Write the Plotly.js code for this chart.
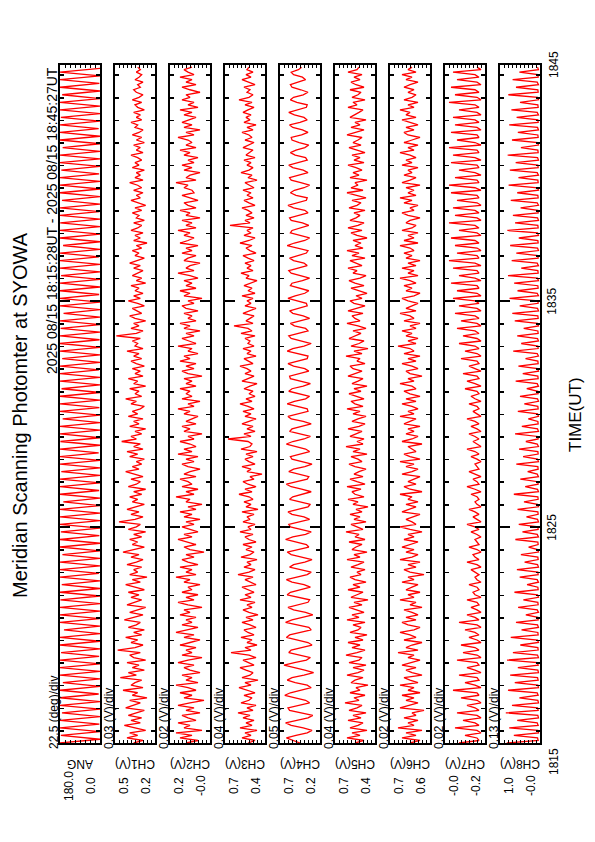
<!DOCTYPE html>
<html><head><meta charset="utf-8">
<script src="https://cdn.plot.ly/plotly-3.0.1.min.js"></script>
<style>
html,body{margin:0;padding:0;width:595px;height:842px;overflow:hidden;background:#fff;}
#plot{position:absolute;left:0;top:0;width:842px;height:595px;transform-origin:0 0;transform:translate(0px,842px) rotate(-90deg);}
</style></head><body><div id="plot"></div>
<script>
// ---- data ----
const titleText = 'Meridian Scanning Photomter at SYOWA';
const periodText = '2025 08/15 18:15:28UT - 2025 08/15 18:45:27UT';
const axisTitle = 'TIME(UT)';
const startMin = 15 + 28/60;   // 18:15:28
const endMin = 45 + 27/60;     // 18:45:27
const angSampleMin = 10/60;    // scan angle: one sample every 10 s
const chSampleMin = (20/3)/60; // photometer channels: one sample every 6.67 s
const timeTickVals = [25, 35];
const timeTickText = ['1825', '1835'];
const timeEndLabels = ['1815', '1845'];

const channelNames = ['ANG','CH1(V)','CH2(V)','CH3(V)','CH4(V)','CH5(V)','CH6(V)','CH7(V)','CH8(V)'];
const perDivLabels = ['22.5 (deg)/div','0.03 (V)/div','0.02 (V)/div','0.04 (V)/div','0.05 (V)/div','0.04 (V)/div','0.02 (V)/div','0.02 (V)/div','0.13 (V)/div'];
const topLabels = ['180.0','0.5','0.2','0.7','0.7','0.7','0.7','-0.0','1.0'];
const bottomLabels = ['0.0','0.2','-0.0','0.4','0.2','0.4','0.6','-0.2','-0.0'];
const yRanges = [[0,180],[0.2,0.5],[-0.01,0.19],[0.35,0.75],[0.2,0.7],[0.35,0.75],[0.55,0.75],[-0.22,-0.02],[-0.03,1.27]];

const ang = [
180,0,176,0,180,3,180,0,171,0,180,0,180,6,180,0,167,0,180,0,
180,0,180,4,175,0,180,0,180,0,162,0,180,2,180,0,180,0,178,0,
180,0,172,0,180,5,180,0,180,0,169,0,180,0,180,3,176,0,180,0,
180,0,180,0,165,0,180,4,180,0,180,0,174,0,180,0,180,6,180,0,
178,0,180,0,180,0,168,0,180,3,180,0,180,0,173,0,180,0,180,5,
180,0,170,0,180,0,180,2,180,0,177,0,180,0,164,0,180,0,180,4,
180,0,180,0,175,0,180,0,180,5,180,0,166,0,180,0,180,0,179,0,
180,3,180,0,171,0,180,0,180,0,180,4,174,0,180,0,180,0,168,0,
180,0,180,6,180,0,176,0,180,0,180,0,170,0,180,3,180,0,180,0];

const ch1 = [
.36,.29,.41,.33,.39,.27,.35,.43,.31,.38, .30,.40,.34,.28,.42,.36,.31,.39,.26,.37,
.33,.44,.29,.38,.35,.30,.46,.34,.40,.28, .37,.32,.41,.27,.36,.39,.31,.48,.35,.29,
.38,.33,.42,.30,.36,.28,.40,.34,.31,.43, .35,.29,.39,.33,.27,.41,.36,.30,.38,.32,
.40,.28,.35,.42,.31,.37,.26,.39,.33,.36, .30,.41,.34,.29,.38,.32,.44,.35,.28,.37,
.33,.39,.30,.36,.27,.40,.34,.31,.47,.35, .29,.38,.32,.41,.35,.28,.37,.33,.39,.30,
.36,.27,.40,.34,.31,.38,.29,.35,.42,.32, .37,.30,.34,.28,.39,.33,.41,.29,.36,.31,
.45,.34,.38,.30,.35,.27,.39,.32,.36,.29, .40,.33,.37,.31,.28,.38,.34,.42,.30,.35,
.32,.39,.27,.36,.33,.40,.29,.35,.31,.37, .28,.34,.38,.30,.36,.32,.41,.29,.35,.33,
.37,.31,.49,.34,.29,.38,.32,.36,.27,.35, .39,.30,.34,.37,.28,.33,.40,.31,.36,.29,
.35,.32,.38,.27,.34,.30,.37,.33,.29,.36, .31,.39,.33,.28,.35,.32,.37,.30,.34,.26,
.36,.31,.35,.29,.38,.33,.30,.36,.28,.34, .32,.37,.30,.35,.27,.33,.38,.31,.34,.29,
.36,.30,.33,.39,.29,.35,.31,.34,.28,.37, .32,.35,.30,.33,.38,.29,.34,.31,.36,.28,
.34,.30,.37,.32,.29,.35,.33,.38,.30,.34, .31,.36,.28,.33,.35,.30,.37,.32,.29,.34,
.36,.31,.33,.29,.35,.32,.30,.34,.31,.33];

const ch2 = [
.11,.05,.14,.08,.16,.03,.12,.09,.15,.06, .10,.13,.04,.11,.07,.15,.09,.02,.12,.08,
.14,.06,.10,.16,.05,.11,.08,.13,.04,.09, .12,.07,.15,.10,.03,.13,.08,.11,.06,.14,
.09,.04,.12,.07,.16,.10,.05,.13,.08,.11, .06,.14,.09,.12,.03,.10,.15,.07,.11,.05,
.13,.08,.10,.04,.12,.09,.16,.06,.11,.08, .14,.05,.10,.13,.07,.11,.02,.09,.12,.06,
.10,.15,.08,.12,.05,.09,.13,.07,.11,.04, .12,.08,.14,.06,.10,.03,.11,.09,.16,.07,
.11,.05,.13,.08,.10,.14,.06,.12,.09,.04, .10,.13,.07,.11,.05,.15,.08,.12,.06,.09,
.14,.07,.10,.03,.12,.09,.13,.06,.11,.08, .05,.12,.09,.15,.07,.10,.04,.13,.08,.11,
.09,.14,.06,.11,.08,.12,.03,.10,.13,.07, .11,.06,.14,.09,.12,.05,.10,.08,.15,.06,
.10,.13,.07,.11,.04,.12,.09,.14,.06,.10, .08,.12,.05,.11,.13,.07,.10,.03,.12,.09,
.14,.06,.11,.08,.12,.05,.09,.15,.07,.11, .09,.04,.12,.10,.06,.13,.08,.11,.05,.14,
.10,.07,.12,.09,.15,.06,.11,.08,.13,.04, .11,.09,.14,.06,.10,.12,.05,.09,.13,.07,
.08,.12,.10,.16,.06,.11,.09,.04,.12,.08, .13,.07,.10,.05,.12,.09,.14,.06,.11,.08,
.10,.15,.07,.11,.04,.12,.08,.13,.09,.06, .12,.08,.14,.05,.10,.07,.13,.09,.11,.04,
.09,.13,.06,.11,.08,.14,.07,.10,.12,.08];

const ch3 = [
.52,.45,.58,.49,.55,.43,.60,.48,.54,.46, .57,.50,.62,.47,.53,.44,.59,.51,.48,.56,
.45,.53,.61,.49,.55,.42,.58,.50,.47,.54, .60,.46,.52,.57,.44,.51,.69,.49,.55,.43,
.53,.48,.59,.46,.52,.56,.44,.50,.58,.47, .54,.42,.51,.57,.48,.53,.45,.60,.49,.55,
.46,.52,.58,.44,.50,.55,.47,.62,.51,.45, .56,.49,.53,.43,.59,.50,.46,.54,.48,.57,
.44,.51,.55,.47,.60,.49,.52,.45,.57,.50, .53,.46,.58,.42,.54,.49,.56,.47,.51,.61,
.48,.55,.44,.52,.57,.46,.50,.38,.53,.49, .58,.45,.51,.55,.47,.54,.43,.59,.50,.48,
.52,.72,.49,.56,.45,.53,.47,.58,.51,.44, .55,.49,.57,.46,.52,.60,.48,.54,.45,.51,
.47,.56,.50,.43,.58,.52,.46,.55,.49,.53, .60,.47,.51,.56,.44,.53,.49,.57,.46,.52,
.50,.55,.45,.59,.48,.52,.66,.47,.54,.50, .46,.57,.51,.44,.55,.49,.53,.47,.58,.45,
.52,.48,.56,.50,.43,.54,.51,.59,.47,.53, .49,.55,.46,.52,.57,.44,.50,.54,.48,.60,
.51,.45,.56,.49,.53,.47,.70,.50,.55,.46, .54,.48,.52,.58,.45,.51,.56,.47,.53,.49,
.57,.46,.50,.55,.43,.52,.48,.59,.51,.47, .53,.49,.56,.45,.54,.50,.47,.57,.52,.46,
.55,.48,.51,.58,.47,.53,.44,.56,.50,.54, .49,.57,.52,.46,.55,.48,.61,.51,.47,.53,
.50,.56,.45,.52,.58,.49,.54,.47,.53,.51];

const ch4 = [
.45,.55,.62,.50,.36,.30,.41,.56,.63,.49, .35,.29,.44,.58,.60,.47,.33,.38,.52,.64,
.57,.42,.31,.36,.51,.61,.55,.40,.28,.39, .54,.65,.52,.37,.32,.46,.59,.56,.43,.30,
.35,.50,.62,.58,.44,.31,.34,.49,.63,.55, .41,.29,.38,.53,.60,.48,.35,.33,.47,.61,
.57,.43,.32,.40,.55,.62,.50,.36,.31,.45, .58,.53,.39,.30,.42,.56,.61,.47,.34,.37,
.52,.63,.54,.38,.31,.44,.57,.59,.45,.33, .40,.55,.60,.48,.35,.32,.46,.58,.54,.41,
.31,.43,.56,.62,.49,.36,.34,.48,.59,.53, .39,.30,.42,.55,.57,.44,.33,.38,.51,.62,
.54,.40,.32,.45,.58,.55,.42,.31,.41,.56, .60,.48,.35,.36,.50,.61,.52,.38,.33,.47,
.59,.55,.41,.32,.44,.57,.58,.45,.34,.39, .53,.60,.49,.36,.35,.48,.61,.54,.40,.31,
.42,.56,.59,.46,.35,.38,.52,.57,.43,.33, .41,.54,.58,.47,.36,.37,.50,.60,.51,.39,
.34,.45,.57,.55,.42,.33,.43,.56,.59,.46, .36,.40,.53,.58,.48,.37,.35,.49,.61,.52,
.39,.33,.46,.57,.55,.43,.34,.42,.56,.58, .45,.35,.39,.53,.60,.49,.37,.36,.50,.57,
.52,.40,.33,.44,.56,.58,.46,.35,.41,.54, .59,.47,.36,.38,.51,.57,.50,.39,.34,.46,
.55,.56,.43,.35,.42,.54,.58,.45,.36,.40, .52,.59,.48,.37,.36,.49,.57,.53,.41,.35,
.44,.55,.57,.46,.38,.42,.53,.56,.47,.43];

const ch5 = [
.55,.46,.63,.50,.58,.43,.60,.52,.47,.62, .49,.57,.44,.61,.53,.48,.65,.51,.56,.45,
.60,.50,.54,.42,.59,.55,.47,.63,.52,.46, .57,.44,.61,.51,.48,.64,.53,.45,.58,.50,
.62,.47,.55,.43,.60,.52,.49,.57,.45,.63, .51,.58,.46,.54,.61,.48,.56,.42,.59,.53,
.47,.62,.50,.57,.44,.55,.60,.49,.53,.45, .59,.52,.46,.63,.50,.56,.43,.58,.54,.48,
.61,.45,.55,.51,.64,.47,.53,.59,.44,.56, .50,.60,.48,.54,.42,.57,.52,.62,.46,.55,
.58,.49,.63,.45,.53,.60,.47,.56,.51,.44, .55,.61,.48,.52,.59,.43,.57,.50,.64,.47,
.53,.46,.60,.54,.48,.62,.51,.45,.58,.52, .44,.57,.50,.63,.47,.55,.59,.46,.53,.61,
.49,.56,.43,.58,.52,.47,.62,.54,.48,.57, .60,.45,.53,.50,.64,.48,.56,.42,.59,.51,
.46,.61,.55,.49,.57,.44,.52,.63,.50,.55, .58,.47,.62,.53,.45,.56,.60,.48,.54,.43,
.52,.59,.46,.55,.61,.50,.44,.57,.53,.62, .48,.54,.60,.45,.58,.51,.63,.47,.55,.49,
.57,.43,.53,.59,.48,.62,.52,.46,.60,.54, .50,.56,.45,.61,.53,.49,.58,.44,.55,.63,
.47,.59,.52,.55,.43,.60,.51,.57,.48,.54, .62,.46,.56,.50,.58,.45,.53,.61,.49,.57,
.52,.48,.63,.54,.46,.59,.50,.55,.44,.60, .55,.51,.47,.62,.53,.57,.45,.58,.52,.49,
.60,.46,.54,.59,.50,.56,.48,.62,.53,.51];

const ch6 = [
.65,.60,.69,.62,.67,.59,.71,.63,.66,.61, .68,.62,.64,.58,.70,.65,.61,.67,.63,.69,
.60,.66,.63,.70,.61,.65,.68,.59,.64,.67, .62,.69,.65,.60,.66,.63,.71,.61,.67,.64,
.59,.68,.62,.65,.70,.63,.60,.66,.69,.62, .67,.61,.64,.68,.59,.65,.62,.70,.63,.66,
.60,.67,.64,.61,.69,.63,.66,.58,.65,.68, .62,.66,.60,.70,.64,.61,.67,.63,.69,.65,
.61,.68,.63,.66,.59,.65,.70,.62,.64,.67, .63,.60,.69,.65,.62,.67,.61,.66,.64,.70,
.59,.65,.68,.62,.66,.63,.60,.69,.64,.61, .67,.63,.70,.60,.65,.68,.62,.64,.66,.59,
.69,.64,.61,.67,.63,.66,.60,.68,.65,.62, .70,.63,.66,.61,.64,.69,.62,.67,.60,.65,
.68,.62,.64,.70,.63,.66,.59,.65,.67,.61, .64,.69,.62,.66,.60,.68,.63,.65,.71,.62,
.66,.61,.67,.64,.69,.62,.65,.60,.68,.63, .65,.70,.62,.67,.64,.61,.66,.69,.63,.60,
.67,.64,.68,.62,.65,.70,.61,.66,.63,.69, .62,.66,.60,.67,.64,.68,.63,.65,.70,.61,
.68,.63,.66,.61,.69,.64,.62,.67,.65,.60, .66,.69,.63,.65,.61,.68,.64,.70,.62,.66,
.63,.67,.60,.69,.65,.62,.68,.64,.66,.61, .69,.64,.67,.62,.65,.70,.63,.66,.61,.68,
.64,.60,.66,.68,.63,.67,.61,.65,.69,.62, .67,.65,.70,.63,.66,.61,.68,.64,.62,.66,
.63,.68,.65,.61,.67,.64,.69,.62,.66,.64];

const ch7 = [
-.09,-.19,-.18,-.12,-.20,-.18,-.07,-.19,-.17, -.11,-.20,-.18,-.08,-.19,-.17,-.13,-.20,-.18,
-.10,-.19,-.18,-.06,-.20,-.17,-.12,-.19,-.18, -.09,-.20,-.17,-.13,-.19,-.18,-.08,-.20,-.18,
-.11,-.19,-.17,-.10,-.20,-.18,-.14,-.19,-.17, -.12,-.20,-.18,-.09,-.19,-.17,-.13,-.20,-.18,
-.15,-.19,-.18,-.13,-.20,-.17,-.16,-.19,-.18, -.14,-.20,-.18,-.17,-.19,-.17,-.15,-.20,-.18,
-.13,-.19,-.17,-.16,-.20,-.18,-.14,-.19,-.18, -.17,-.20,-.18,-.15,-.19,-.17,-.13,-.20,-.18,
-.16,-.19,-.17,-.14,-.20,-.18,-.17,-.19,-.18, -.15,-.20,-.17,-.13,-.19,-.18,-.16,-.20,-.17,
-.14,-.19,-.18,-.17,-.20,-.18,-.15,-.19,-.17, -.13,-.20,-.18,-.16,-.19,-.17,-.14,-.20,-.18,
-.15,-.19,-.17,-.13,-.20,-.18,-.16,-.19,-.18, -.14,-.20,-.17,-.15,-.19,-.18,-.12,-.20,-.17,
-.13,-.19,-.18,-.11,-.20,-.17,-.14,-.19,-.18, -.10,-.20,-.18,-.12,-.19,-.17,-.09,-.20,-.18,
-.11,-.19,-.17,-.08,-.20,-.18,-.10,-.19,-.17, -.07,-.20,-.18,-.09,-.19,-.17,-.06,-.20,-.18,
-.08,-.19,-.18,-.05,-.20,-.17,-.09,-.19,-.18, -.06,-.20,-.17,-.04,-.19,-.18,-.08,-.20,-.18,
-.07,-.19,-.17,-.05,-.20,-.18,-.09,-.19,-.17, -.04,-.20,-.18,-.07,-.19,-.17,-.06,-.20,-.18,
-.08,-.19,-.18,-.05,-.20,-.17,-.04,-.19,-.18, -.07,-.20,-.17,-.09,-.19,-.18,-.05,-.20,-.17,
-.06,-.19,-.18,-.04,-.20,-.17,-.08,-.19,-.18, -.05,-.20,-.18,-.07,-.19,-.17,-.06,-.20,-.18,
-.09,-.19,-.17,-.04,-.20,-.18,-.07,-.19,-.17, -.05,-.20,-.18,-.08,-.19,-.17,-.06,-.20,-.18];

const ch8 = [
1.05,.03,.05,.82,.02,.04,.97,.03,.06, .71,.02,.04,1.08,.03,.05,.88,.02,.04,
.64,.03,.06,1.01,.02,.04,.79,.03,.05, .94,.02,.04,.69,.03,.06,1.04,.02,.05,
.85,.03,.04,.61,.02,.05,.92,.03,.04, .57,.02,.05,.75,.03,.04,.43,.02,.06,
.68,.03,.04,.51,.02,.05,.80,.03,.04, .39,.02,.06,.63,.03,.04,.72,.02,.05,
.47,.03,.04,.59,.02,.05,.34,.03,.04, .77,.02,.06,.54,.03,.04,.66,.02,.05,
.41,.03,.04,.70,.02,.05,.49,.03,.04, .82,.02,.05,.45,.03,.04,.61,.02,.06,
.37,.03,.04,.74,.02,.05,.52,.03,.04, .65,.02,.06,.43,.03,.04,.78,.02,.05,
.56,.03,.04,.35,.02,.05,.69,.03,.04, .48,.02,.05,.62,.03,.04,.40,.02,.06,
.76,.03,.04,.53,.02,.05,.67,.03,.04, .44,.02,.06,.84,.03,.04,.58,.02,.05,
.71,.03,.04,.50,.02,.05,.79,.03,.04, .87,.02,.05,.63,.03,.04,.96,.02,.06,
.70,.03,.04,.81,.02,.05,1.01,.03,.04, .58,.02,.06,.89,.03,.04,.74,.02,.05,
.94,.03,.04,.66,.02,.05,1.03,.03,.04, .78,.02,.05,.85,.03,.04,.60,.02,.06,
.92,.03,.04,.71,.02,.05,.99,.03,.04, .67,.02,.06,.95,.03,.04,.76,.02,.05,
1.02,.03,.04,.59,.02,.05,.88,.03,.04, .69,.02,.05,.97,.03,.04,.73,.02,.06,
.90,.03,.04,.62,.02,.05,1.00,.03,.04, .75,.02,.06,.86,.03,.04,.64,.02,.05];

const series = [ang, ch1, ch2, ch3, ch4, ch5, ch6, ch7, ch8];

// ---- layout / drawing ----
const W = 842, H = 595;
const FONT = 'Liberation Sans, Arial, Helvetica, sans-serif';
const plotL = 99, plotR = 777;
const panelTop0 = 60, panelStep = 55, panelH = 40;
const angTimes = ang.map((_, i) => startMin + i * angSampleMin);
const chTimes = ch1.map((_, i) => startMin + i * chSampleMin);

const traces = [];
const layout = {
  width: W, height: H, margin: {l:0, r:0, t:0, b:0},
  paper_bgcolor: '#fff', plot_bgcolor: '#fff', showlegend: false,
  font: {family: FONT, color: '#000', size: 12},
  annotations: []
};
const txt = (o) => Object.assign({xref: 'paper', yref: 'paper', showarrow: false,
  font: {size: 12, family: FONT, color: '#000'}}, o);
const N = series.length;
for (let k = 0; k < N; k++) {
  const sfx = k === 0 ? '' : String(k + 1);
  const topPx = panelTop0 + panelStep * k, botPx = topPx + panelH;
  const yDom = [1 - botPx / H, 1 - topPx / H];
  traces.push({x: k === 0 ? angTimes : chTimes, y: series[k], xaxis: 'x' + sfx, yaxis: 'y' + sfx,
    type: 'scatter', mode: 'lines', line: {color: '#ff0000', width: 1.3}, hoverinfo: 'skip'});
  const last = k === N - 1;
  layout['xaxis' + sfx] = {
    domain: [plotL / W, plotR / W], anchor: 'y' + sfx, range: [startMin, endMin],
    showline: true, linecolor: '#000', linewidth: 2, mirror: 'ticks',
    showgrid: false, zeroline: false,
    tickmode: 'array', tickvals: timeTickVals, ticktext: timeTickText,
    ticks: 'inside', ticklen: 10, tickwidth: 2, tickcolor: '#000',
    minor: {dtick: 1, tick0: 0, ticks: 'inside', ticklen: 4, tickwidth: 1.5, tickcolor: '#000'},
    showticklabels: last, tickfont: {size: 12, family: FONT, color: '#000'}
  };
  const r = yRanges[k];
  layout['yaxis' + sfx] = {
    domain: yDom, anchor: 'x' + sfx, range: r,
    showline: true, linecolor: '#000', linewidth: 2, mirror: 'ticks',
    showgrid: false, zeroline: false, showticklabels: false,
    tick0: r[0], dtick: (k === 0 ? 22.5 : (r[1] - r[0]) / 10),
    ticks: 'inside', ticklen: 3, tickwidth: 1, tickcolor: '#000'
  };
  layout.annotations.push(txt({x: 91 / W, y: yDom[1], xanchor: 'left', yanchor: 'bottom', yshift: -3, text: perDivLabels[k]}));
  layout.annotations.push(txt({x: 56 / W, y: yDom[1], xanchor: 'center', yanchor: 'top', text: topLabels[k]}));
  layout.annotations.push(txt({x: 56 / W, y: yDom[0], xanchor: 'center', yanchor: 'bottom', text: bottomLabels[k]}));
  layout.annotations.push(txt({x: 78 / W, y: (yDom[0] + yDom[1]) / 2, xanchor: 'center', yanchor: 'middle',
    textangle: -90, text: channelNames[k]}));
}
layout.annotations.push(txt({x: 80 / W, y: 1 - 545 / H, xanchor: 'center', yanchor: 'top', text: timeEndLabels[0]}));
layout.annotations.push(txt({x: 777 / W, y: 1 - 545 / H, xanchor: 'center', yanchor: 'top', text: timeEndLabels[1]}));
layout.annotations.push(txt({x: 427 / W, y: 1 - 575 / H, xanchor: 'center', yanchor: 'middle', text: axisTitle,
  font: {size: 17, family: FONT, color: '#000'}}));
layout.annotations.push(txt({x: 427 / W, y: 1 - 20 / H, xanchor: 'center', yanchor: 'middle', text: titleText,
  font: {size: 20, family: FONT, color: '#000'}}));
layout.annotations.push(txt({x: plotR / W, y: 1 - 52 / H, xanchor: 'right', yanchor: 'middle', text: periodText,
  font: {size: 14, family: FONT, color: '#000'}}));

Plotly.newPlot('plot', traces, layout, {staticPlot: true, displayModeBar: false});
</script></body></html>
